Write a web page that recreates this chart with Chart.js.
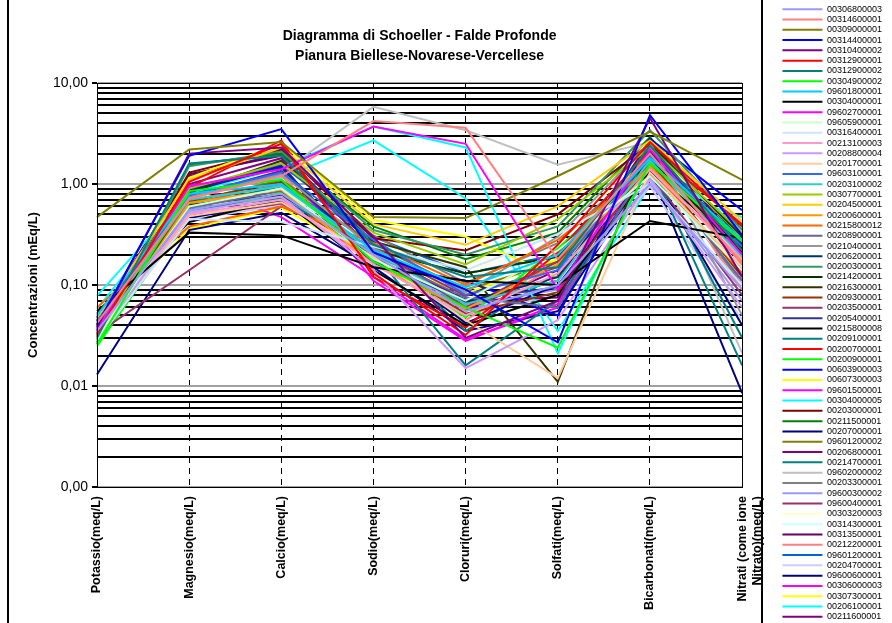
<!DOCTYPE html>
<html>
<head>
<meta charset="utf-8">
<title>Diagramma di Schoeller - Falde Profonde</title>
<script src="https://cdn.jsdelivr.net/npm/chart.js@4.4.1/dist/chart.umd.min.js"></script>
<style>
  html, body { margin: 0; padding: 0; background: #fff; }
  #wrap { width: 892px; height: 623px; position: relative; }
</style>
</head>
<body>
<div id="wrap"><canvas id="schoeller"></canvas></div>
<script>
"use strict";

// ions on the x axis (meq/L)
const categories = [
	"Potassio(meq/L)", "Magnesio(meq/L)", "Calcio(meq/L)", "Sodio(meq/L)",
	"Cloruri(meq/L)", "Solfati(meq/L)", "Bicarbonati(meq/L)",
	["Nitrati (come ione", "Nitrato)(meq/L)"]
];

// wells, same order as the legend
const seriesNames = [
	"00306800003", "00314600001", "00309000001", "00314400001", "00310400002",
	"00312900001", "00312900002", "00304900002", "09601800001", "00304000001",
	"09602700001", "09605900001", "00316400001", "00213100003", "00208800004",
	"00201700001", "09603100001", "00203100002", "00307700001", "00204500001",
	"00200600001", "00215800012", "00208900001", "00210400001", "00206200001",
	"00200300001", "00214200001", "00216300001", "00209300001", "00203500001",
	"00205400001", "00215800008", "00209100001", "00200700001", "00200900001",
	"00603900003", "00607300003", "09601500001", "00304000005", "00203000001",
	"00211500001", "00207000001", "09601200002", "00206800001", "00214700001",
	"09602000002", "00203300001", "09600300002", "09600400001", "00303200003",
	"00314300001", "00313500001", "00212200001", "09601200001", "00204700001",
	"09600600001", "00306000003", "00307300001", "00206100001", "00211600001"
];

const seriesColors = [
	"#9999FF", "#FF8080", "#808000", "#0000FF", "#800080",
	"#FF0000", "#008080", "#00FF00", "#00CCFF", "#000000",
	"#FF00FF", "#CCFFCC", "#CCE5FF", "#FF99CC", "#CC99FF",
	"#FFCC99", "#3366FF", "#33CCCC", "#99CC00", "#FFCC00",
	"#FF9900", "#FF6600", "#666699", "#969696", "#003366",
	"#339966", "#003300", "#333300", "#993300", "#993366",
	"#333399", "#000000", "#008080", "#FF0000", "#00FF00",
	"#0000FF", "#FFFF00", "#FF00FF", "#00FFFF", "#800000",
	"#008000", "#000080", "#808000", "#800080", "#008080",
	"#C0C0C0", "#808080", "#9999FF", "#993366", "#FFFFCC",
	"#CCFFFF", "#660066", "#FF8080", "#0066CC", "#CCCCFF",
	"#000080", "#FF00FF", "#FFFF00", "#00FFFF", "#800080"
];

// concentrations, one value per well
const potassio = [
	0.035, 0.042, 0.47, 0.040, 0.038, 0.033, 0.030, 0.026, 0.050, 0.055,
	0.036, 0.030, 0.028, 0.034, 0.029, 0.031, 0.044, 0.039, 0.032, 0.046,
	0.030, 0.060, 0.033, 0.037, 0.041, 0.028, 0.035, 0.048, 0.031, 0.033,
	0.043, 0.052, 0.029, 0.038, 0.025, 0.036, 0.040, 0.034, 0.078, 0.032,
	0.027, 0.045, 0.039, 0.047, 0.026, 0.036, 0.041, 0.030, 0.035, 0.049,
	0.033, 0.044, 0.037, 0.031, 0.028, 0.013, 0.032, 0.042, 0.058, 0.040
];
const magnesio = [
	0.55, 0.72, 2.2, 1.9, 2.0, 1.05, 1.6, 0.85, 0.80, 0.33,
	0.95, 0.60, 0.45, 0.50, 0.52, 0.48, 0.78, 0.70, 0.90, 1.10,
	0.65, 0.38, 0.58, 0.74, 0.88, 1.50, 0.62, 0.82, 0.68, 0.14,
	0.76, 0.42, 0.56, 0.92, 0.50, 0.84, 1.15, 0.88, 0.82, 1.30,
	1.55, 0.46, 0.66, 1.00, 0.60, 0.70, 0.64, 0.54, 0.47, 0.58,
	0.62, 1.25, 0.73, 0.86, 0.44, 0.35, 1.00, 0.36, 0.80, 1.20
];
const calcio = [
	0.80, 1.20, 2.6, 3.5, 2.3, 2.5, 1.9, 1.1, 1.0, 0.31,
	1.4, 0.90, 0.42, 0.70, 0.75, 0.66, 1.3, 0.95, 1.6, 2.3,
	0.88, 0.60, 0.85, 1.25, 1.45, 2.1, 0.78, 1.7, 1.05, 0.60,
	1.35, 0.70, 0.72, 2.7, 0.82, 1.5, 2.5, 1.6, 1.45, 2.2,
	2.0, 0.68, 1.1, 1.8, 0.95, 1.3, 1.0, 0.76, 0.64, 0.84,
	0.92, 1.9, 1.2, 1.55, 0.62, 0.52, 0.47, 0.58, 1.15, 2.0
];
const sodio = [
	0.20, 4.2, 0.47, 0.21, 0.30, 0.13, 0.25, 0.17, 0.22, 0.15,
	3.7, 0.18, 0.24, 0.16, 0.14, 0.19, 0.28, 0.21, 0.33, 0.40,
	0.16, 0.26, 0.20, 0.23, 0.18, 0.35, 0.22, 0.27, 0.19, 0.24,
	0.17, 0.14, 0.21, 0.12, 0.18, 0.16, 0.44, 0.11, 3.7, 0.29,
	0.38, 0.20, 0.25, 0.22, 0.26, 5.8, 0.31, 0.19, 0.23, 0.28,
	0.21, 0.24, 0.17, 0.30, 0.20, 0.15, 0.12, 0.18, 2.7, 0.26
];
const cloruri = [
	0.055, 3.6, 0.46, 0.090, 0.030, 0.032, 0.12, 0.060, 0.095, 0.11,
	2.5, 0.070, 0.14, 0.050, 0.015, 0.045, 0.080, 0.065, 0.16, 0.25,
	0.058, 0.10, 0.075, 0.085, 0.068, 0.20, 0.13, 0.15, 0.052, 0.060,
	0.072, 0.040, 0.016, 0.038, 0.048, 0.11, 0.30, 0.028, 2.3, 0.22,
	0.18, 0.042, 0.090, 0.070, 0.035, 3.4, 0.105, 0.062, 0.078, 0.12,
	0.088, 0.065, 0.045, 0.13, 0.050, 0.035, 0.029, 0.082, 0.72, 0.056
];
const solfati = [
	0.10, 0.18, 1.2, 0.027, 0.07, 0.25, 0.15, 0.024, 0.20, 0.10,
	0.09, 0.22, 0.32, 0.13, 0.045, 0.012, 0.14, 0.11, 0.45, 0.60,
	0.16, 0.28, 0.06, 0.30, 0.12, 0.38, 0.19, 0.011, 0.085, 0.17,
	0.095, 0.08, 0.07, 0.21, 0.23, 0.05, 0.12, 0.065, 0.021, 0.50,
	0.33, 0.10, 0.17, 0.075, 0.13, 1.55, 0.26, 0.09, 0.15, 0.40,
	0.29, 0.11, 0.16, 0.20, 0.08, 0.055, 0.06, 0.18, 0.035, 0.14
];
const bicarbonati = [
	1.0, 2.0, 3.3, 4.8, 4.5, 2.6, 2.4, 1.6, 1.8, 0.43,
	2.2, 1.2, 1.0, 1.4, 1.1, 1.3, 1.9, 1.7, 2.3, 2.7,
	1.5, 1.45, 1.6, 2.6, 2.1, 3.4, 1.8, 2.5, 1.7, 1.25,
	2.0, 1.35, 1.55, 2.2, 1.6, 2.8, 2.4, 1.9, 1.75, 2.5,
	2.9, 1.45, 2.1, 2.3, 1.65, 2.6, 1.85, 1.15, 1.35, 1.5,
	1.25, 2.7, 1.9, 2.0, 0.95, 1.4, 1.7, 1.5, 0.98, 2.4
];
const nitrati = [
	0.09, 0.16, 1.1, 0.31, 0.12, 0.38, 0.22, 0.27, 0.28, 0.29,
	0.20, 0.14, 0.10, 0.18, 0.06, 0.15, 0.24, 0.19, 0.33, 0.43,
	0.17, 0.13, 0.11, 0.05, 0.26, 0.35, 0.21, 0.30, 0.12, 0.08,
	0.25, 0.23, 0.016, 0.40, 0.28, 0.55, 0.30, 0.16, 0.36, 0.20,
	0.27, 0.04, 0.22, 0.14, 0.03, 0.021, 0.10, 0.07, 0.13, 0.19,
	0.12, 0.25, 0.09, 0.32, 0.045, 0.0085, 0.11, 0.23, 0.47, 0.18
];

const ionValues = [potassio, magnesio, calcio, sodio, cloruri, solfati, bicarbonati, nitrati];

// log axis 0,001 .. 10 with a line at every 1..9 step
const yMin = 0.001;
const yMax = 10;
const decades = [0.001, 0.01, 0.1, 1];
const steps = [1, 2, 3, 4, 5, 6, 7, 8, 9];

const isDecade = (v) => Math.abs(Math.log10(v) - Math.round(Math.log10(v))) < 1e-6;

const datasets = seriesNames.map((name, i) => ({
	label: name,
	data: ionValues.map(arr => arr[i]),
	borderColor: seriesColors[i],
	backgroundColor: seriesColors[i],
	borderWidth: 2,
	pointRadius: 0,
	tension: 0,
	fill: false
}));

// black frame round the plot, plus the outer chart and legend borders
const framePlugin = {
	id: 'frame',
	afterDraw(chart) {
		const {ctx, chartArea} = chart;
		ctx.save();
		ctx.strokeStyle = '#000';
		ctx.lineWidth = 1;
		ctx.strokeRect(Math.round(chartArea.left) + 0.5, Math.round(chartArea.top) + 0.5,
			Math.round(chartArea.right - chartArea.left), Math.round(chartArea.bottom - chartArea.top));
		ctx.lineWidth = 2;
		ctx.beginPath();
		ctx.moveTo(8, 0);
		ctx.lineTo(8, chart.height);
		const lx = Math.round(chartArea.right) + 20;
		ctx.moveTo(lx, 0);
		ctx.lineTo(lx, chart.height);
		ctx.stroke();
		ctx.restore();
	}
};

Chart.defaults.font.family = "'Liberation Sans', Arial, sans-serif";
Chart.defaults.color = '#000';

new Chart(document.getElementById('schoeller'), {
	type: 'line',
	data: { labels: categories, datasets: datasets },
	options: {
		responsive: true,
		maintainAspectRatio: false,
		animation: false,
		devicePixelRatio: 1,
		layout: { padding: { left: 22, right: 0, top: 3, bottom: 0 } },
		plugins: {
			tooltip: { enabled: false },
			title: {
				display: true,
				fullSize: false,
				text: ["Diagramma di Schoeller - Falde Profonde", "Pianura Biellese-Novarese-Vercellese"],
				font: { size: 14, weight: 'bold', lineHeight: 1.45 },
				color: '#000',
				padding: { top: 23, bottom: 16.4 }
			},
			legend: {
				position: 'right',
				align: 'center',
				labels: {
					boxWidth: 40,
					boxHeight: 2,
					padding: 1.3,
					font: { size: 9 },
					color: '#000',
					generateLabels(chart) {
						return chart.data.datasets.map((ds, i) => ({
							text: ds.label,
							fillStyle: ds.borderColor,
							strokeStyle: ds.borderColor,
							lineWidth: 0,
							hidden: false,
							datasetIndex: i
						}));
					}
				}
			}
		},
		scales: {
			x: {
				type: 'category',
				offset: false,
				afterFit(scale) { scale.height = 136; },
				grid: {
					drawTicks: false,
					color: (c) => (c.index === 0 || c.index === categories.length - 1) ? 'rgba(0,0,0,0)' : '#000',
					lineWidth: 1
				},
				// dash applies to the vertical grid lines, the axis line stays solid
				border: { display: true, color: '#000', width: 1, dash: [6, 5] },
				ticks: {
					autoSkip: false,
					maxRotation: 90,
					minRotation: 90,
					padding: 9,
					font: { size: 12.5, weight: 'bold' }
				}
			},
			y: {
				type: 'logarithmic',
				min: yMin,
				max: yMax,
				afterFit(scale) { scale.width = 75; },
				afterBuildTicks(scale) {
					const ticks = [];
					decades.forEach(d => steps.forEach(s => ticks.push({ value: +(d * s).toPrecision(3) })));
					ticks.push({ value: yMax });
					scale.ticks = ticks;
				},
				grid: {
					color: (c) => isDecade(c.tick.value) ? '#a0a0a0' : '#000',
					tickColor: (c) => isDecade(c.tick.value) ? '#000' : 'rgba(0,0,0,0)',
					lineWidth: 2,
					tickLength: 5
				},
				border: { display: true, color: '#000', width: 1 },
				ticks: {
					autoSkip: false,
					padding: 4,
					font: { size: 14 },
					callback: (v) => isDecade(v) ? v.toFixed(2).replace('.', ',') : ''
				},
				title: {
					display: true,
					text: 'Concentrazioni (mEq/L)',
					font: { size: 13, weight: 'bold' },
					padding: { top: 4, bottom: 4 }
				}
			},
			pad: {
				type: 'linear',
				position: 'right',
				display: true,
				afterFit(scale) { scale.width = 39; },
				grid: { display: false },
				border: { display: false },
				ticks: { display: false }
			}
		}
	},
	plugins: [framePlugin]
});
</script>
</body>
</html>
